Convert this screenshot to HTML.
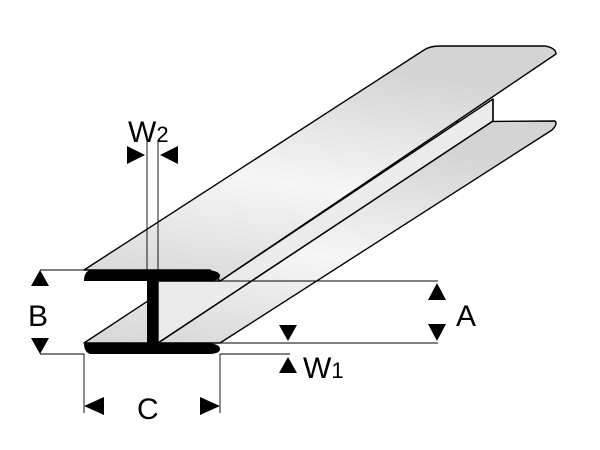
<!DOCTYPE html>
<html><head><style>body{margin:0;background:#fff}svg{display:block}</style></head><body>
<svg width="600" height="450" viewBox="0 0 600 450" xmlns="http://www.w3.org/2000/svg" font-family="Liberation Sans, sans-serif">
<defs>
<linearGradient id="g" x1="0" y1="1" x2="0.3" y2="0">
<stop offset="0" stop-color="#d6d6d6"/><stop offset="0.5" stop-color="#f6f6f6"/><stop offset="1" stop-color="#d4d4d4"/>
</linearGradient>
</defs>
<g stroke="#000" stroke-width="1.4" stroke-linejoin="round">
<path d="M84,343 L420,122 L555,121 Q558,124 552,130 L220,343 Z" fill="url(#g)"/>
<path d="M158,343 L493,121 L493,99 L220,281 L158,281 Z" fill="#ebebeb"/>
<path d="M84,270 L424,50 Q430,46 440,46 L545,46 Q556,48 556,54 L220,281 L210,270 Z" fill="url(#g)"/>
</g>
<line x1="158" y1="343" x2="493" y2="121" stroke="#000" stroke-width="1.4"/>
<line x1="493" y1="99" x2="493" y2="121" stroke="#000" stroke-width="1.4"/>
<path d="M90,270 L208,270 Q220,271 220,276 Q220,281 208,281 L84,281 Q84,272 90,270 Z" fill="#000"/>
<path d="M84,343 L208,343 Q220,344 220,349 Q220,354 208,354 L90,354 Q84,352 84,343 Z" fill="#000"/>
<rect x="147" y="280" width="11" height="64" fill="#000"/>
<g stroke="#000" stroke-width="0.9">
<line x1="40" y1="270" x2="84" y2="270"/><line x1="40" y1="354" x2="84" y2="354"/>
<line x1="220" y1="281" x2="438" y2="281"/><line x1="220" y1="343" x2="438" y2="343"/>
<line x1="220" y1="354" x2="290" y2="354"/>
<line x1="84" y1="354" x2="84" y2="413"/><line x1="220" y1="354" x2="220" y2="413"/>
<line x1="147" y1="140" x2="147" y2="270"/><line x1="158" y1="140" x2="158" y2="270"/>
</g>
<g fill="#000">
<polygon points="40,270 31,286 49,286"/><polygon points="40,354 31,338 49,338"/>
<polygon points="437,283 428,300 446,300"/><polygon points="437,341 428,324 446,324"/>
<polygon points="288,341 279,325 297,325"/><polygon points="288,357 279,373 297,373"/>
<polygon points="84,406 104,397 104,415"/><polygon points="220,406 200,397 200,415"/>
<polygon points="145,155 127,146 127,164"/><polygon points="160,155 178,146 178,164"/>
</g>
<g font-size="30" fill="#000">
<text x="28" y="326">B</text>
<text x="456" y="326">A</text>
<text x="137" y="419">C</text>
<text x="303" y="378">W<tspan font-size="22">1</tspan></text>
<text x="128" y="142">W<tspan font-size="22">2</tspan></text>
</g>
</svg>
</body></html>
